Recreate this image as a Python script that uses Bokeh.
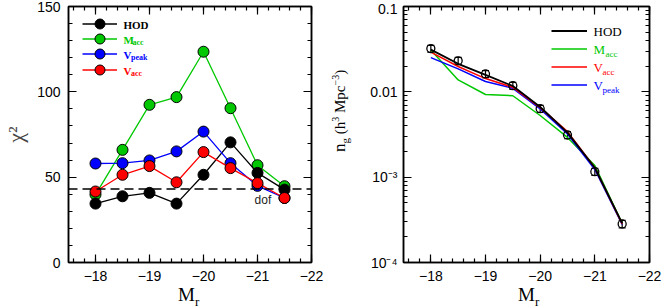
from bokeh.plotting import figure
from bokeh.models import (Range1d, LinearAxis, LogAxis, FixedTicker, SingleIntervalTicker,
                          Span, Label, Legend, LegendItem, ColumnDataSource, Whisker, TeeHead,
                          CustomJSTickFormatter, Div)
from bokeh.layouts import row
from bokeh.embed import file_html
from bokeh.resources import INLINE

# ---------------- data ----------------
mag = [-18.0, -18.5, -19.0, -19.5, -20.0, -20.5, -21.0, -21.5]

chi2_hod = [34.5, 38.8, 40.8, 34.5, 51.4, 70.4, 52.5, 42.7]
chi2_macc = [39.8, 66.0, 92.4, 96.9, 123.5, 90.4, 57.0, 44.7]
chi2_vpeak = [58.0, 58.2, 59.8, 65.1, 76.7, 58.2, 44.9, 37.8]
chi2_vacc = [41.6, 51.4, 56.5, 47.0, 64.7, 55.3, 46.5, 37.8]
dof = 43.0

ng_obs = [0.0321, 0.0231, 0.0162, 0.0118, 0.00634, 0.00312, 0.00116, 0.000283]
ng_err = [0.0030, 0.0022, 0.0015, 0.0011, 0.00060, 0.00030, 0.00011, 0.000028]
ng_hod = [0.0312, 0.0213, 0.0158, 0.0117, 0.00664, 0.00333, 0.00129, 0.000288]
ng_macc = [0.0310, 0.0138, 0.0093, 0.0090, 0.00528, 0.00292, 0.00137, 0.000288]
ng_vacc = [0.0292, 0.0198, 0.0143, 0.0113, 0.00652, 0.00342, 0.00129, 0.000283]
ng_vpeak = [0.0252, 0.0186, 0.0132, 0.0110, 0.00630, 0.00321, 0.00123, 0.000280]

ng_major_ticks = [1e-4, 1e-3, 1e-2, 1e-1]
ng_minor_ticks = [m * d for d in (1e-4, 1e-3, 1e-2) for m in range(2, 10)]

GREEN = "#00c800"
BLUE = "#0000ff"
RED = "#ff0000"
SERIF = "Liberation Serif"
SANS = "Liberation Sans"

minus_fmt = CustomJSTickFormatter(code="return tick < 0 ? '\\u2212' + Math.abs(tick) : String(tick);")
log_fmt = CustomJSTickFormatter(code="""
const e = Math.round(Math.log10(tick));
if (e == -1) return '0.1';
if (e == -2) return '0.01';
const sup = {'-':'\\u207b','0':'\\u2070','1':'\\u00b9','2':'\\u00b2','3':'\\u00b3','4':'\\u2074','5':'\\u2075','6':'\\u2076','7':'\\u2077','8':'\\u2078','9':'\\u2079'};
return '10' + String(e).split('').map(c => sup[c]).join('');
""")


def style_axis(ax, show=True):
    ax.major_tick_in = 8
    ax.major_tick_out = 0
    ax.minor_tick_in = 4
    ax.minor_tick_out = 0
    ax.axis_line_width = 1.5
    ax.axis_line_color = "black"
    ax.major_tick_line_width = 1.2
    ax.minor_tick_line_width = 1.2
    ax.major_tick_line_color = "black"
    ax.minor_tick_line_color = "black"
    ax.major_label_text_font = SANS
    ax.major_label_text_color = "black"
    if show:
        ax.major_label_text_font_size = "14px"
        ax.major_label_standoff = 8
    else:
        ax.major_label_text_font_size = "1px"
        ax.major_label_standoff = 0
        ax.formatter = CustomJSTickFormatter(code="return '';")


def add_text(p, text, x, y, size, color="black", font=SERIF, style="normal",
             align="left", baseline="middle", units="screen"):
    p.add_layout(Label(x=x, y=y, x_units=units, y_units=units, text=text,
                       text_font_size=f"{size}px", text_color=color, text_font=font,
                       text_font_style=style, text_align=align, text_baseline=baseline))


def make_fig(width, y_range, y_type, mb_left, mb_right):
    p = figure(width=width, height=308, x_range=Range1d(-17.5, -22), y_range=y_range,
               y_axis_type=y_type, output_backend="svg", toolbar_location=None,
               min_border_left=mb_left, min_border_right=mb_right,
               min_border_top=6, min_border_bottom=46)
    p.xgrid.visible = False
    p.ygrid.visible = False
    p.outline_line_color = "black"
    p.outline_line_width = 1.5
    p.background_fill_color = "white"
    p.border_fill_color = "white"
    return p


# ---------------- left panel: chi^2 ----------------
p1 = make_fig(336, Range1d(0, 150), "linear", 63, 25)
xt = SingleIntervalTicker(interval=1, num_minor_ticks=5)
yt = SingleIntervalTicker(interval=50, num_minor_ticks=5)
p1.xaxis.ticker = xt
p1.yaxis.ticker = yt
p1.xaxis.formatter = minus_fmt
style_axis(p1.xaxis[0])
style_axis(p1.yaxis[0])
p1.yaxis.axis_label = "\u03c7\u00b2"
p1.yaxis.axis_label_text_font = SERIF
p1.yaxis.axis_label_text_font_size = "22px"
p1.yaxis.axis_label_text_font_style = "normal"
p1.yaxis.axis_label_standoff = 6
top1 = LinearAxis(ticker=xt)
right1 = LinearAxis(ticker=yt)
style_axis(top1, show=False)
style_axis(right1, show=False)
p1.add_layout(top1, "above")
p1.add_layout(right1, "right")

p1.add_layout(Span(location=dof, dimension="width", line_color="black",
                   line_width=1.5, line_dash="9 5"))

series1 = [("macc", chi2_macc, GREEN), ("hod", chi2_hod, "black"),
           ("vpeak", chi2_vpeak, BLUE), ("vacc", chi2_vacc, RED)]
rend1 = {}
for name, vals, col in series1:
    src = ColumnDataSource(dict(x=mag, y=vals))
    ln = p1.line("x", "y", source=src, line_color=col, line_width=1.3)
    sc = p1.scatter("x", "y", source=src, size=11, fill_color=col, line_color="black",
                    line_width=1)
    rend1[name] = [ln, sc]

leg1_keys = ["hod", "macc", "vpeak", "vacc"]
leg1_vy = [226, 211, 196, 180]
for k, vy in zip(leg1_keys, leg1_vy):
    p1.add_layout(Legend(items=[LegendItem(label=" ", renderers=rend1[k])],
                         location=(14, vy), glyph_width=35, glyph_height=25, spacing=0,
                         padding=0, margin=0, label_width=0, label_height=25,
                         label_standoff=0, label_text_font_size="1px",
                         background_fill_alpha=0, border_line_alpha=0))

leg1_text = [("HOD", "", "black"), ("M", "acc", GREEN), ("V", "peak", BLUE), ("V", "acc", RED)]
leg1_y = [238, 223, 208, 192]
for (main, sub, col), yy in zip(leg1_text, leg1_y):
    add_text(p1, main, 55, yy, 11, col, style="bold")
    if sub:
        add_text(p1, sub, 55 + (9 if main == "M" else 7.5), yy - 3, 8, col, style="bold")

add_text(p1, "dof", -21.1, 36.5, 12, "#222222", font=SANS, align="center", units="data")

# ---------------- right panel: number density ----------------
p2 = make_fig(328, Range1d(1e-4, 0.1), "log", 67, 15)
lt = FixedTicker(ticks=ng_major_ticks, minor_ticks=ng_minor_ticks)
p2.xaxis.ticker = xt
p2.yaxis.ticker = lt
p2.xaxis.formatter = minus_fmt
p2.yaxis.formatter = log_fmt
style_axis(p2.xaxis[0])
style_axis(p2.yaxis[0])
p2.yaxis.major_label_standoff = 6
top2 = LinearAxis(ticker=xt)
right2 = LogAxis(ticker=lt)
style_axis(top2, show=False)
style_axis(right2, show=False)
p2.add_layout(top2, "above")
p2.add_layout(right2, "right")

series2 = [("macc", ng_macc, GREEN, 1.5), ("vpeak", ng_vpeak, BLUE, 1.5),
           ("vacc", ng_vacc, RED, 1.5), ("hod", ng_hod, "black", 1.8)]
rend2 = {}
for name, vals, col, lw in series2:
    rend2[name] = p2.line(mag, vals, line_color=col, line_width=lw)

obs_src = ColumnDataSource(dict(x=mag, y=ng_obs,
                                lo=[v - e for v, e in zip(ng_obs, ng_err)],
                                hi=[v + e for v, e in zip(ng_obs, ng_err)]))
p2.add_layout(Whisker(source=obs_src, base="x", lower="lo", upper="hi",
                      line_color="black", line_width=1.2,
                      lower_head=TeeHead(size=7, line_width=1.2),
                      upper_head=TeeHead(size=7, line_width=1.2)))
p2.scatter("x", "y", source=obs_src, size=8, fill_color=None, line_color="black",
           line_width=1.3)

p2.add_layout(Legend(items=[LegendItem(label=" ", renderers=[rend2[k]])
                            for k in ("hod", "macc", "vacc", "vpeak")],
                     location=(148, 170), glyph_width=36, glyph_height=15, spacing=3,
                     padding=0, margin=0, label_width=0, label_height=15, label_standoff=0,
                     label_text_font_size="1px", background_fill_alpha=0,
                     border_line_alpha=0))

leg2_text = [("HOD", "", "black"), ("M", "acc", GREEN), ("V", "acc", RED), ("V", "peak", BLUE)]
leg2_y = [231, 213, 195, 177]
for (main, sub, col), yy in zip(leg2_text, leg2_y):
    add_text(p2, main, 190, yy, 13, col)
    if sub:
        add_text(p2, sub, 190 + (12 if main == "M" else 9), yy - 4, 9, col)

# ---------------- axis titles with sub/superscripts (HTML) ----------------
mr_html = ('<div style="font-family:\'Liberation Serif\';font-size:19px;line-height:19px;'
           'color:black;white-space:nowrap">M<span style="font-size:13px;position:relative;'
           'top:5px">r</span></div>')


def abs_div(html, left, top, w, h, extra=None):
    st = {"position": "absolute", "left": f"{left}px", "top": f"{top}px", "margin": "0",
          "padding": "0", "overflow": "visible"}
    if extra:
        st.update(extra)
    return Div(text=html, width=w, height=h, styles=st)


d1 = abs_div(mr_html, 178, 285, 30, 20)
d2 = abs_div(mr_html, 518, 285, 30, 20)
ng_html = ('<div style="font-family:\'Liberation Serif\';font-size:15px;line-height:18px;'
           'color:black;white-space:nowrap"><span style="font-size:17px">n</span>'
           '<span style="font-size:11px;position:relative;top:4px">g</span>&nbsp;'
           '(h<span style="font-size:10px;position:relative;top:-6px">3</span>&nbsp;Mpc'
           '<span style="font-size:10px;position:relative;top:-6px">\u22123</span>)</div>')
d3 = abs_div(ng_html, 331, 152, 84, 18,
             {"transform": "rotate(-90deg)", "transform-origin": "0 0"})

layout = row(p1, p2, d1, d2, d3)
open("out.html", "w").write(file_html(layout, INLINE))
